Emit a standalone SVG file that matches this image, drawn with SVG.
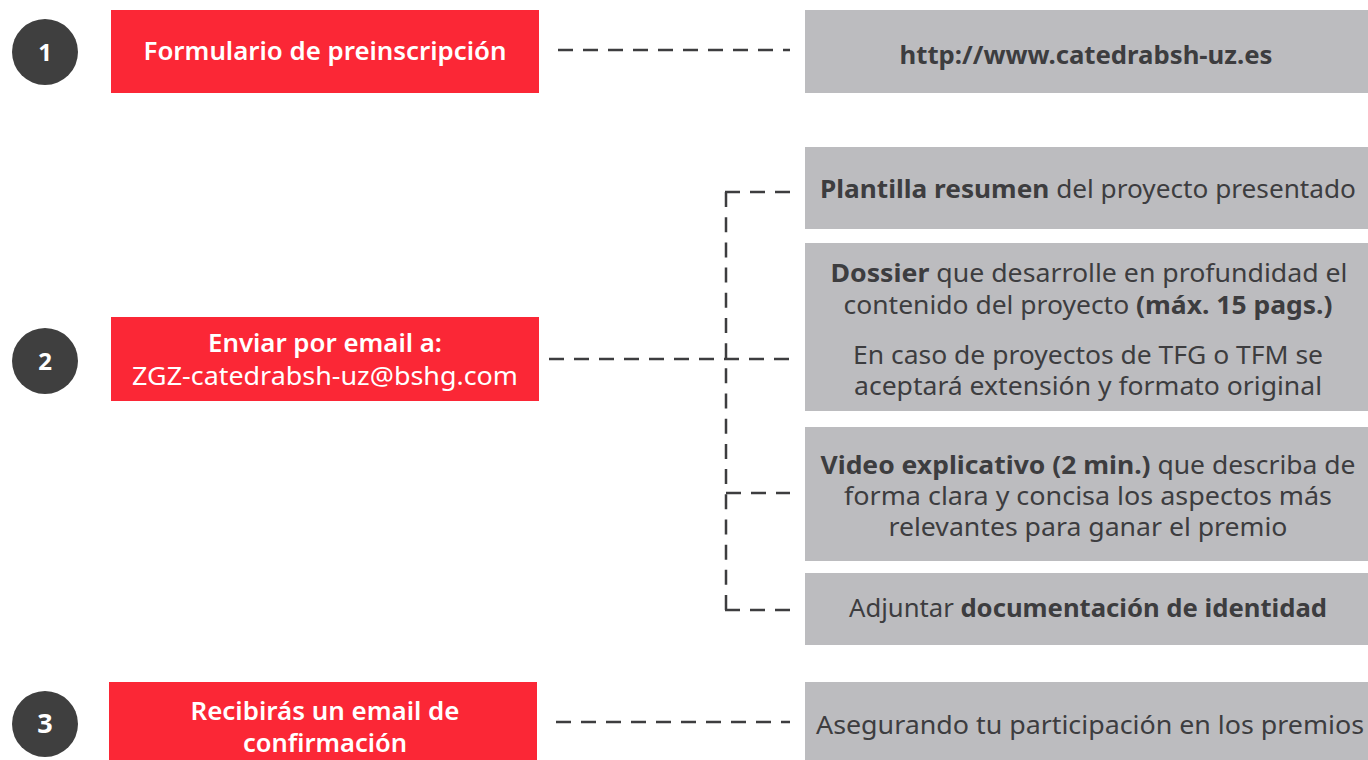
<svg xmlns="http://www.w3.org/2000/svg" width="1368" height="760" viewBox="0 0 1368 760">
<style>
.red{fill:#fb2736}
.gray{fill:#bcbcbf}
.num{fill:#3f3f3f}
.nt{font-family:"Noto Sans",sans-serif;font-size:24px;font-weight:bold;fill:#ffffff;text-anchor:middle}
.wt{font-family:"Noto Sans",sans-serif;font-size:25px;fill:#ffffff;text-anchor:middle}
.gt{font-family:"Noto Sans",sans-serif;font-size:25px;fill:#3d3d3f;text-anchor:middle}
.b{font-weight:bold}
.m{font-weight:600}
.dash{fill:none;stroke:#3d3d3f;stroke-width:2.5;stroke-dasharray:15 10}
</style>
<rect width="1368" height="760" fill="#ffffff"/>
<g id="connectors">
<line class="dash" x1="558" y1="50" x2="790" y2="50"/>
<line class="dash" x1="549" y1="359" x2="792" y2="359"/>
<line class="dash" x1="790" y1="192" x2="724.75" y2="192"/>
<line class="dash" x1="726" y1="192" x2="726" y2="610" style="stroke-dasharray:15 10.19"/>
<line class="dash" x1="726" y1="493" x2="790" y2="493"/>
<line class="dash" x1="790" y1="610" x2="724.75" y2="610"/>
<line class="dash" x1="556" y1="722" x2="790" y2="722"/>
</g>
<g id="step1">
<circle class="num" cx="45" cy="52" r="33"/>
<text class="nt" x="45" y="61">1</text>
</g>
<g id="step2">
<circle class="num" cx="45" cy="361" r="33"/>
<text class="nt" x="45" y="370">2</text>
</g>
<g id="step3">
<circle class="num" cx="45" cy="724" r="33"/>
<text class="nt" x="45" y="733" style="font-size:27px">3</text>
</g>
<g id="form">
<rect class="red" x="111" y="10" width="428" height="83"/>
<text class="wt m" x="325" y="60" textLength="363" lengthAdjust="spacingAndGlyphs">Formulario de preinscripción</text>
</g>
<g id="email">
<rect class="red" x="111" y="317" width="428" height="84"/>
<text class="wt m" x="325" y="352" textLength="234" lengthAdjust="spacingAndGlyphs">Enviar por email a:</text>
<text class="wt" x="325" y="385" textLength="386" lengthAdjust="spacingAndGlyphs">ZGZ-catedrabsh-uz@bshg.com</text>
</g>
<g id="confirm">
<rect class="red" x="109" y="682" width="428" height="78"/>
<text class="wt m" x="325" y="720" textLength="269" lengthAdjust="spacingAndGlyphs">Recibirás un email de</text>
<text class="wt m" x="325" y="752" textLength="164" lengthAdjust="spacingAndGlyphs">confirmación</text>
</g>
<g id="web">
<rect class="gray" x="805" y="10" width="563" height="83"/>
<text class="gt b" x="1086" y="64" textLength="373" lengthAdjust="spacingAndGlyphs">http://www.catedrabsh-uz.es</text>
</g>
<g id="plantilla">
<rect class="gray" x="805" y="147" width="563" height="82"/>
<text class="gt" x="1088" y="198" textLength="536" lengthAdjust="spacingAndGlyphs"><tspan class="b">Plantilla resumen</tspan> del proyecto presentado</text>
</g>
<g id="dossier">
<rect class="gray" x="805" y="243" width="563" height="168"/>
<text class="gt" x="1089" y="282" textLength="517" lengthAdjust="spacingAndGlyphs"><tspan class="b">Dossier</tspan> que desarrolle en profundidad el</text>
<text class="gt" x="1088" y="314" textLength="489" lengthAdjust="spacingAndGlyphs">contenido del proyecto <tspan class="b">(máx. 15 pags.)</tspan></text>
<text class="gt" x="1088" y="364" textLength="470" lengthAdjust="spacingAndGlyphs">En caso de proyectos de TFG o TFM se</text>
<text class="gt" x="1088" y="395" textLength="468" lengthAdjust="spacingAndGlyphs">aceptará extensión y formato original</text>
</g>
<g id="video">
<rect class="gray" x="805" y="427" width="563" height="134"/>
<text class="gt" x="1088" y="474" textLength="535" lengthAdjust="spacingAndGlyphs"><tspan class="b">Video explicativo (2 min.)</tspan> que describa de</text>
<text class="gt" x="1088" y="505" textLength="488" lengthAdjust="spacingAndGlyphs">forma clara y concisa los aspectos más</text>
<text class="gt" x="1088" y="536" textLength="399" lengthAdjust="spacingAndGlyphs">relevantes para ganar el premio</text>
</g>
<g id="identidad">
<rect class="gray" x="805" y="573" width="563" height="72"/>
<text class="gt" x="1088" y="617" textLength="478" lengthAdjust="spacingAndGlyphs">Adjuntar <tspan class="b">documentación de identidad</tspan></text>
</g>
<g id="participacion">
<rect class="gray" x="805" y="682" width="563" height="78"/>
<text class="gt" x="1090" y="734" textLength="548" lengthAdjust="spacingAndGlyphs">Asegurando tu participación en los premios</text>
</g>
</svg>
